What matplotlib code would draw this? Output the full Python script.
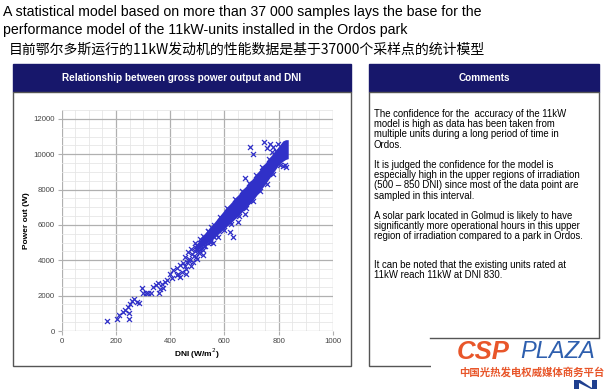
import matplotlib
matplotlib.use("Agg")
import matplotlib.pyplot as plt
from matplotlib.patches import Rectangle, Polygon
from matplotlib.lines import Line2D
from matplotlib.ticker import MultipleLocator

plt.rcParams['font.family'] = ['Liberation Sans', 'Noto Sans CJK SC', 'DejaVu Sans']

# scattered samples (DNI W/m2, power W)
dni = [168, 205, 212, 225, 233, 249, 249, 243, 252, 258, 266, 276, 286,
       295, 298, 311, 319, 328, 359, 335, 348, 356, 369, 381, 389, 362, 372,
       399, 411, 424, 436, 448, 461, 405, 424, 442, 436, 454, 460, 429,
       470, 475, 480, 485, 490, 495, 500, 505, 510, 515, 520, 525, 530, 535,
       540, 545, 550, 555, 560, 565, 570, 575, 580, 585, 590, 595, 600, 610,
       620, 490, 460, 455, 500, 520, 546, 558, 620, 632, 650, 675,
       676, 705, 694, 747, 756, 780, 774, 767, 798, 823, 828, 815,
       540, 560, 585, 610, 640, 665, 690, 715, 740, 765, 790,
       575, 600, 625, 655, 680, 705, 730, 755, 780, 805,
       465, 478, 492, 508, 522, 538, 552, 470, 488, 506, 525, 545]
power = [580, 680, 900, 1050, 1180, 1000, 660, 1370, 1520, 1710, 1790, 1650, 1600,
         2410, 2130, 2130, 2130, 2130, 2130, 2500, 2600, 2690, 2650, 2780, 2880, 2350, 2410,
         3250, 3440, 3540, 3720, 3820, 3910, 2970, 3160, 3340, 3060, 4190, 3250, 3250,
         4100, 3700, 4350, 3900, 4500, 4200, 4800, 4400, 4650, 4950, 4600, 5100, 4800, 5250,
         4950, 5400, 5150, 5600, 5300, 5800, 5500, 5950, 5650, 6100, 5800, 6300, 5950, 6500,
         6150, 4750, 3500, 3650, 4100, 4300, 5040, 4950, 5600, 5320, 6170, 6640,
         8670, 10030, 10430, 10680, 10360, 10430, 10110, 10590, 10590, 9370, 9270, 9350,
         5650, 6000, 6450, 6950, 7450, 7900, 8350, 8800, 9250, 9750, 10200,
         5300, 5700, 6050, 6500, 6950, 7350, 7900, 8300, 8900, 9400,
         4450, 4650, 4950, 5200, 5400, 5650, 5900, 3950, 4250, 4500, 4800, 5050]

# dense core of the cloud, lower and upper edge
core_dni = [490, 520, 560, 600, 650, 700, 750, 800, 815, 825, 835]
core_lo = [4450, 4800, 5250, 5800, 6500, 7300, 8300, 9400, 9600, 9700, 9750]
core_hi = [4800, 5350, 6100, 6850, 7700, 8550, 9500, 10450, 10750, 10820, 10820]

x_ticks = [0, 200, 400, 600, 800, 1000]
y_ticks = [0, 2000, 4000, 6000, 8000, 10000, 12000]

title_en = ["A statistical model based on more than 37 000 samples lays the base for the",
            "performance model of the 11kW-units installed in the Ordos park"]
title_cn = "目前鄂尔多斯运行的11kW发动机的性能数据是基于37000个采样点的统计模型"
comments = [
    "The confidence for the  accuracy of the 11kW\nmodel is high as data has been taken from\n"
    "multiple units during a long period of time in\nOrdos.",
    "It is judged the confidence for the model is\nespecially high in the upper regions of irradiation\n"
    "(500 \u2013 850 DNI) since most of the data point are\nsampled in this interval.",
    "A solar park located in Golmud is likely to have\nsignificantly more operational hours in this upper\n"
    "region of irradiation compared to a park in Ordos.",
    "It can be noted that the existing units rated at\n11kW reach 11kW at DNI 830.",
]

W, H = 610, 389
navy = '#17176b'
blue = '#3030c8'

fig = plt.figure(figsize=(W / 100, H / 100), dpi=100)


def box(x0, y0, x1, y1, z=0.5, **kw):
    r = Rectangle((x0 / W, 1 - y1 / H), (x1 - x0) / W, (y1 - y0) / H,
                  transform=fig.transFigure, zorder=z, **kw)
    fig.add_artist(r)


def txt(x, y, s, **kw):
    fig.text(x / W, 1 - y / H, s, **kw)


txt(3, 12, title_en[0], fontsize=10.15, va='center', ha='left')
txt(3, 30, title_en[1], fontsize=10.15, va='center', ha='left')
txt(9, 50, title_cn, fontsize=10.0, va='center', ha='left',
    family=['Noto Sans CJK SC', 'DejaVu Sans'])

# left panel
box(13, 64, 351, 92, facecolor=navy, edgecolor=navy)
box(13, 92, 351, 366, facecolor='white', edgecolor='#555555', lw=1.0)
txt(182, 78, "Relationship between gross power output and DNI", color='white',
    fontsize=7.2, fontweight='bold', ha='center', va='center')

# right panel
box(369, 64, 599, 92, facecolor=navy, edgecolor=navy)
box(369, 92, 599, 366, facecolor='white', edgecolor='#555555', lw=1.0)
txt(484, 78, "Comments", color='white', fontsize=7.2, fontweight='bold',
    ha='center', va='center')
ys = [109, 160, 211, 260]
for y, c in zip(ys, comments):
    txt(374, y, c, fontsize=6.9, va='top', ha='left', linespacing=1.03)

# chart
ax = fig.add_axes([61.7 / W, 1 - 331 / H, (333 - 61.7) / W, (331 - 110) / H])
ax.set_zorder(2)
ax.set_xlim(0, 1000)
ax.set_ylim(0, 12500)
ax.xaxis.set_minor_locator(MultipleLocator(50))
ax.yaxis.set_minor_locator(MultipleLocator(500))
ax.set_xticks(x_ticks)
ax.set_yticks(y_ticks)
ax.grid(which='major', color='#b0b0b0', lw=0.9)
ax.grid(which='minor', color='#e6e6e6', lw=0.6)
ax.set_axisbelow(True)
for s in ax.spines.values():
    s.set_visible(False)
ax.tick_params(which='major', length=3, color='#b0b0b0', labelsize=5.6,
               labelcolor='#444444', pad=2)
ax.tick_params(which='minor', length=0)
ax.fill_between(core_dni, core_lo, core_hi, color=blue, lw=0)
ax.scatter(dni, power, marker='x', s=13, color=blue, linewidths=0.9)
ax.set_xlabel("DNI (W/m$^2$)", fontsize=6, fontweight='bold', labelpad=1)
ax.set_ylabel("Power out (W)", fontsize=6, fontweight='bold', labelpad=2)

# logo over the lower right corner
box(431, 338, 610, 389, z=4, facecolor='white', edgecolor='none')
fig.add_artist(Line2D([430 / W, 599 / W], [1 - 337.5 / H, 1 - 337.5 / H],
                      transform=fig.transFigure, color='#555555', lw=1.0, zorder=4))
txt(457, 352, "CSP", color='#e8562a', fontsize=18.5, fontweight='bold',
    style='italic', va='center', ha='left', zorder=5)
txt(520, 352, "PLAZA", color='#2e5fae', fontsize=17, style='italic',
    va='center', ha='left', zorder=5)
txt(459, 372, "中国光热发电权威媒体商务平台", color='#e8562a', fontsize=7.5,
    fontweight='bold', va='center', ha='left', zorder=6,
    family=['Noto Sans CJK SC', 'DejaVu Sans'])
# partly visible emblem at the very corner
emblem = [(574, 389), (574, 380), (580, 380), (592, 388), (592, 380), (597, 380),
          (597, 389), (591, 389), (579, 383), (579, 389)]
fig.add_artist(Polygon([(x / W, 1 - y / H) for x, y in emblem], closed=True,
                       transform=fig.transFigure, facecolor='#1f3f8f',
                       edgecolor='none', zorder=5))

fig.savefig("out.png", dpi=100)
